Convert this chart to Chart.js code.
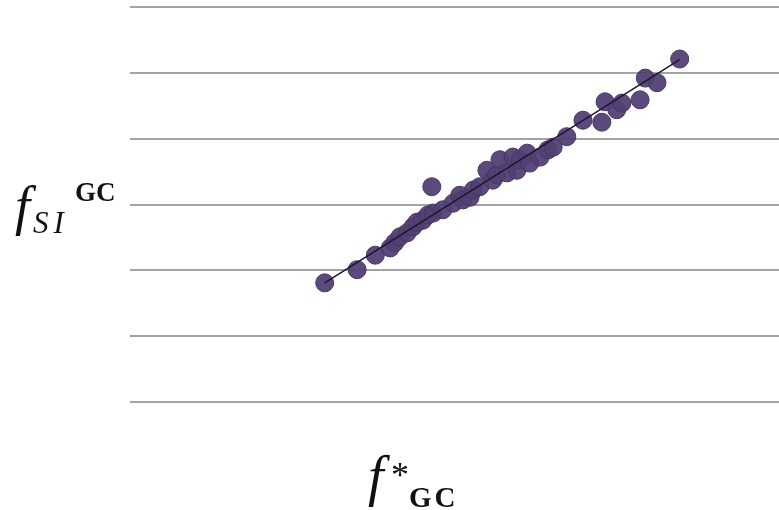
<!DOCTYPE html>
<html>
<head>
<meta charset="utf-8">
<script src="https://cdn.jsdelivr.net/npm/chart.js@4.4.0/dist/chart.umd.min.js"></script>
<style>
  body { margin: 0; background: #fff; }
  #wrap { position: relative; width: 779px; height: 510px; }
  .t { position: absolute; font-family: 'Liberation Serif', serif; color: #111; white-space: nowrap; line-height: 1; }
  .it { font-style: italic; }
  .bd { font-weight: bold; }
</style>
</head>
<body>
<div id="wrap">
  <canvas id="chart" width="779" height="510"></canvas>
  <!-- y title: f SI ^GC -->
  <span class="t it" style="left:15px; top:179px; font-size:54px;">f</span>
  <span class="t it" style="left:33px; top:207px; font-size:31px; letter-spacing:5px;">SI</span>
  <span class="t bd" style="left:75px; top:179px; font-size:27px;">GC</span>
  <!-- x title: f* GC -->
  <span class="t it" style="left:368px; top:448px; font-size:56px;">f</span>
  <span class="t" style="left:391px; top:457px; font-size:36px;">*</span>
  <span class="t bd" style="left:409px; top:483px; font-size:29px; letter-spacing:3px;">GC</span>
</div>
<script>
// f*GC vs fSI GC values
const fStar = [30.0, 35.0, 37.8, 40.1, 40.8, 41.6, 42.7, 43.6, 44.2, 45.1, 45.9, 46.5, 46.7, 48.2, 49.8, 50.8,
  51.3, 52.4, 52.9, 53.9, 55.0, 55.9, 56.5, 57.0, 58.1, 59.0, 59.6, 60.1, 61.2, 61.6, 63.2, 64.4, 65.2,
  67.3, 69.8, 72.7, 73.2, 75.0, 75.8, 78.6, 79.4, 81.2, 84.7];
const fSI = [1.81, 2.01, 2.23, 2.34, 2.42, 2.51, 2.57, 2.66, 2.73, 2.76, 2.84, 3.27, 2.87, 2.92, 3.02, 3.14,
  3.07, 3.11, 3.22, 3.27, 3.52, 3.37, 3.45, 3.68, 3.48, 3.72, 3.52, 3.68, 3.78, 3.63, 3.72, 3.83, 3.87,
  4.03, 4.28, 4.25, 4.56, 4.44, 4.54, 4.59, 4.92, 4.85, 5.21];
// trend line end points
const trendX = [30.0, 84.7];
const trendY = [1.81, 5.20];

const pts = fStar.map((x, i) => ({ x: x, y: fSI[i] }));
const trend = trendX.map((x, i) => ({ x: x, y: trendY[i] }));

const ctx = document.getElementById('chart').getContext('2d');
const chart = new Chart(ctx, {
  type: 'scatter',
  data: {
    datasets: [
      {
        type: 'line',
        data: trend,
        borderColor: '#1c1530',
        borderWidth: 1.5,
        pointRadius: 0,
        fill: false,
        order: 0
      },
      {
        data: pts,
        backgroundColor: 'rgba(82,64,116,0.95)',
        borderColor: 'rgba(70,54,100,1)',
        borderWidth: 1,
        pointRadius: 9,
        order: 1
      }
    ]
  },
  options: {
    responsive: false,
    animation: false,
    layout: { autoPadding: false, padding: { left: 130, right: 0, top: 7, bottom: 108 } },
    plugins: { legend: { display: false }, tooltip: { enabled: false } },
    scales: {
      x: {
        type: 'linear',
        min: 0,
        max: 100,
        display: false
      },
      y: {
        min: 0,
        max: 6,
        ticks: { display: false, stepSize: 1 },
        border: { display: false },
        grid: { color: '#a3a3a3', lineWidth: 2, drawTicks: false }
      }
    }
  }
});
</script>
</body>
</html>
